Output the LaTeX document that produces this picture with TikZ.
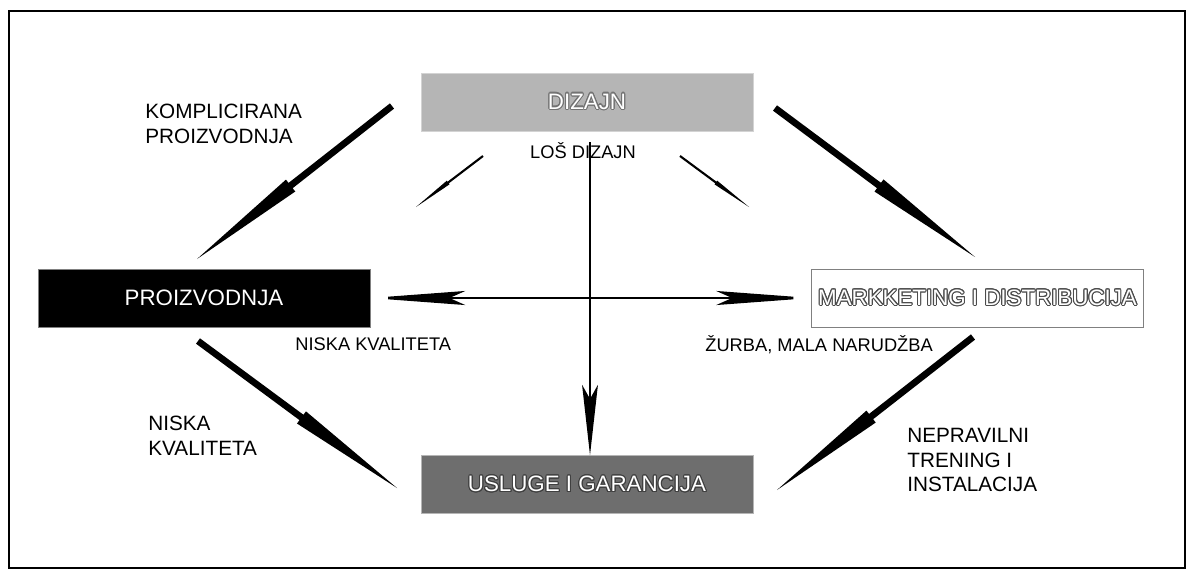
\documentclass[tikz,border=0pt]{standalone}
\usepackage{fontspec}
\setmainfont{Liberation Sans}
\usepackage[copies]{contour}
\contourlength{0.6pt}
\usetikzlibrary{calc}
\usetikzlibrary{arrows.meta}
\usetikzlibrary{positioning}
\usepackage{xcolor}

\definecolor{lightbox}{HTML}{B5B5B5}
\definecolor{darkbox}{HTML}{6E6E6E}

% tapered arrow: start, end, shaft half width, collar half width
\newcommand\spear[4]{%
\path (#1) coordinate (sp0) (#2) coordinate (sp1) ($(sp0)!.52!(sp1)$) coordinate (spm);
\fill ($(sp0)!#3!90:(sp1)$) -- ($(spm)!#3!-90:(sp0)$) -- ($(spm)!#4!-90:(sp0)$) -- (sp1)
  -- ($(spm)!#4!90:(sp0)$) -- ($(spm)!#3!90:(sp0)$) -- ($(sp0)!#3!-90:(sp1)$) -- cycle;}

\begin{document}
\begin{tikzpicture}[x=0.02cm,y=-0.02cm,
  box/.style={minimum width=6.64cm,minimum height=1.16cm,inner sep=0pt,font=\fontsize{12.7}{15}\selectfont},
  lbl/.style={font=\fontsize{11.8}{14.2}\selectfont,align=left,inner sep=0pt,anchor=west},
  small/.style={font=\fontsize{10.4}{12}\selectfont,inner sep=0pt}]
\useasboundingbox (0,0) rectangle (1189,572);
\draw[line width=1.2pt] (9,11) rectangle (1185,568);

\node[box,fill=lightbox,draw=lightbox!60,text=white] (dizajn) at (587,102) {\contour{black!55}{DIZAJN}};
\node[box,fill=black,draw=gray,text=white] (proiz) at (204,298) {PROIZVODNJA};
\node[box,fill=white,draw=gray,text=white] (mark) at (977.5,298) {\contour{black!70}{MARKKETING I DISTRIBUCIJA}};
\node[box,fill=darkbox,draw=lightbox,text=white] (usluge) at (587,484.5) {\contour{black!75}{USLUGE I GARANCIJA}};

\node[small] (losdiz) at (583,151) {LOŠ DIZAJN};
\node[small,anchor=west] (niskamid) at (295,344) {NISKA KVALITETA};
\node[small,anchor=west] (zurba) at (705,345) {ŽURBA, MALA NARUDŽBA};
\node[lbl] (kompl) at (145,124) {KOMPLICIRANA\\PROIZVODNJA};
\node[lbl] (niska) at (148,436) {NISKA\\KVALITETA};
\node[lbl] (neprav) at (907,460) {NEPRAVILNI\\TRENING I\\INSTALACIJA};

% big arrows
\coordinate (a1) at (392,106); \coordinate (b1) at (197,259);
\coordinate (a2) at (775,108); \coordinate (b2) at (975,257);
\coordinate (a3) at (198,341); \coordinate (b3) at (397,488);
\coordinate (a4) at (973,337); \coordinate (b4) at (777,490);
\spear{a1}{b1}{1.9pt}{4.3pt}
\spear{a2}{b2}{1.9pt}{4.3pt}
\spear{a3}{b3}{1.9pt}{4.3pt}
\spear{a4}{b4}{1.9pt}{4.3pt}
% small arrows
\coordinate (a5) at (483,156); \coordinate (b5) at (416,207);
\coordinate (a6) at (680,156); \coordinate (b6) at (749,207);
\spear{a5}{b5}{0.6pt}{1.3pt}
\spear{a6}{b6}{0.6pt}{1.3pt}

\draw[line width=1.5pt,{Stealth[length=54pt,width=8pt,inset=9pt]}-{Stealth[length=54pt,width=8pt,inset=9pt]}] (proiz.east) -- (mark.west);
\coordinate (vtop) at (590,142);
\draw[line width=1.2pt,-{Stealth[length=40pt,width=9pt,inset=8pt]}] (vtop) -- (vtop |- usluge.north);
\end{tikzpicture}
\end{document}
